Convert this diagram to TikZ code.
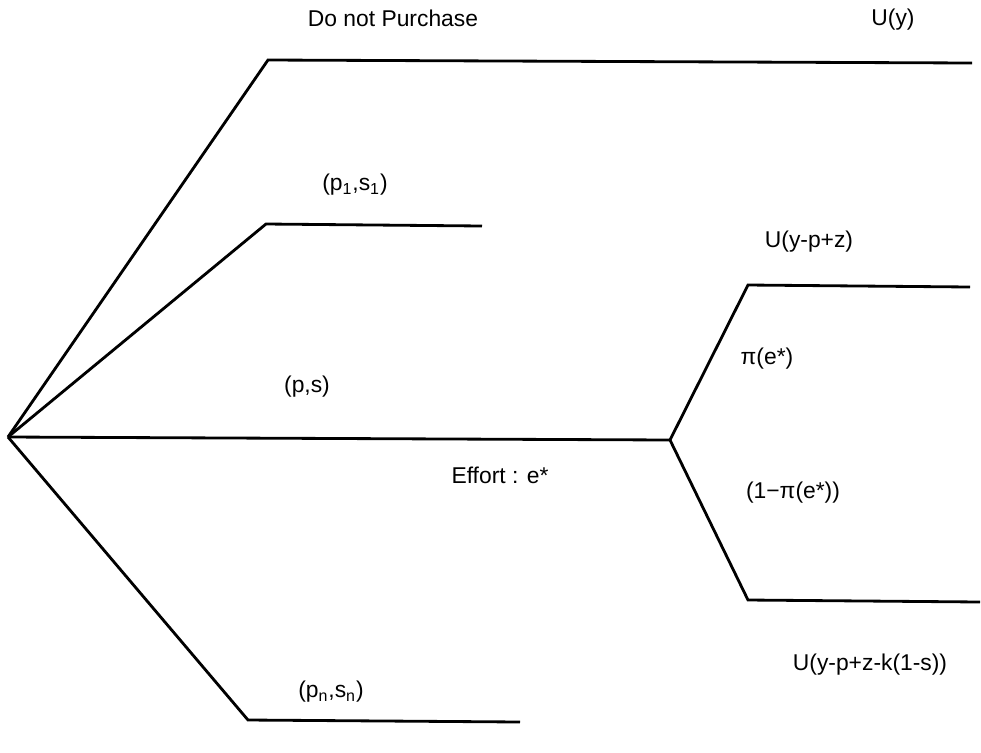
\documentclass[tikz,border=0pt]{standalone}
\usepackage{fontspec}
\setmainfont{Liberation Sans}
\tikzset{
    branch/.style={line width=1.6pt},
    lbl/.style={font=\fontsize{13}{15}\selectfont}
}
\begin{document}
\begin{tikzpicture}[x=0.02cm,y=-0.02cm]
    \useasboundingbox (0,0) rectangle (981,752);
    \coordinate (root) at (8,437);
    \coordinate (np1) at (268,60);
    \coordinate (np2) at (972,63);
    \coordinate (a1) at (266,224);
    \coordinate (a2) at (482,226);
    \coordinate (eff) at (670,440);
    \coordinate (up1) at (748,285);
    \coordinate (up2) at (970,287);
    \coordinate (dn1) at (748,600);
    \coordinate (dn2) at (980,602);
    \coordinate (n1) at (248,720);
    \coordinate (n2) at (520,722);
    \draw[branch] (root) -- (np1) -- (np2);
    \draw[branch] (root) -- (a1) -- (a2);
    \draw[branch] (root) -- (eff);
    \draw[branch] (eff) -- (up1) -- (up2);
    \draw[branch] (eff) -- (dn1) -- (dn2);
    \draw[branch] (root) -- (n1) -- (n2);
    \node[lbl] (nolbl) at (393,18) {Do not Purchase};
    \node[lbl] (uy) at (893,20) {U(y)};
    \node[lbl] (p1lbl) at (355,185) {(p\textsubscript{1},s\textsubscript{1})};
    \node[lbl] (uwin) at (809,242) {U(y-p+z)};
    \node[lbl] (prob) at (767,359) {π(e*)};
    \node[lbl] (pslbl) at (307,387) {(p,s)};
    \node[lbl] (effort) at (500,475) {Effort : e*};
    \node[lbl] (probc) at (793,493) {(1−π(e*))};
    \node[lbl] (ulose) at (870,665) {U(y-p+z-k(1-s))};
    \node[lbl] (pnlbl) at (331,692) {(p\textsubscript{n},s\textsubscript{n})};
\end{tikzpicture}
\end{document}
